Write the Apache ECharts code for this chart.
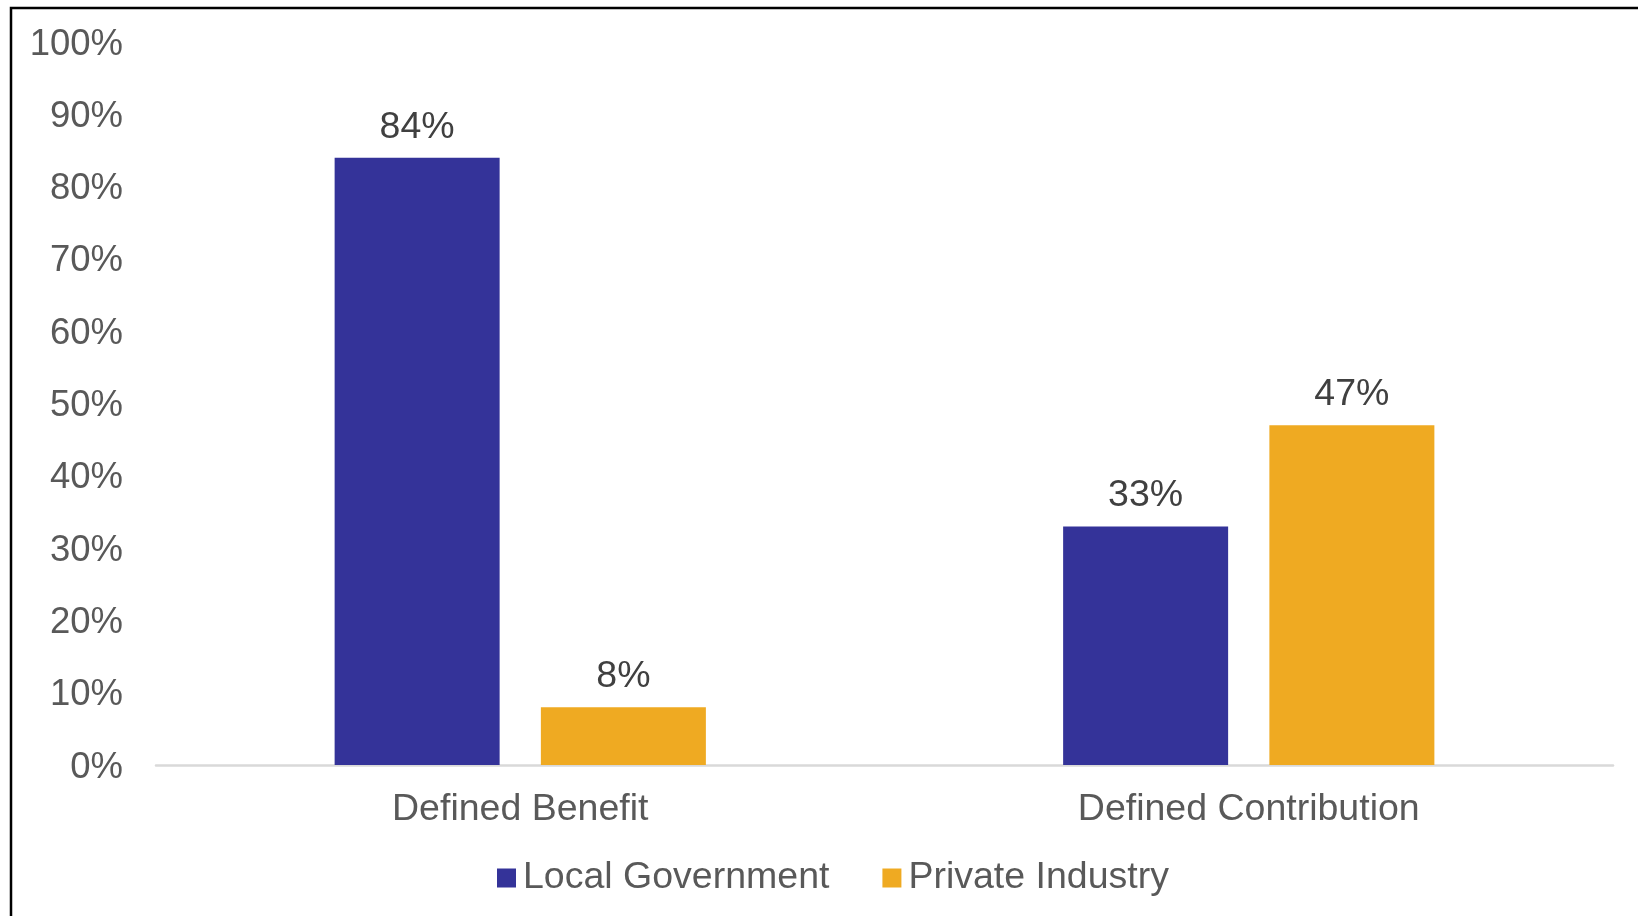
<!DOCTYPE html>
<html>
<head>
<meta charset="utf-8">
<script src="https://cdn.jsdelivr.net/npm/echarts@6/dist/echarts.min.js"></script>
<style>
html,body{margin:0;padding:0;background:#fff;}
#chart{width:1638px;height:916px;}
</style>
</head>
<body>
<div id="chart"></div>
<script>
const categories = ['Defined Benefit', 'Defined Contribution'];
const seriesNames = ['Local Government', 'Private Industry'];
const localGovernment = [84, 33];
const privateIndustry = [8, 47];
const yTicks = [0, 10, 20, 30, 40, 50, 60, 70, 80, 90, 100];

const FONT = '"Liberation Sans", Arial, sans-serif';
const FS = 37.5;
const chart = echarts.init(document.getElementById('chart'), null, {renderer: 'canvas'});

const labelCfg = {
  show: true,
  position: 'top',
  distance: 12,
  formatter: p => p.value + '%',
  color: '#404040',
  fontSize: FS,
  lineHeight: 37,
  fontFamily: FONT
};

chart.setOption({
  animation: false,
  backgroundColor: '#ffffff',
  graphic: [{
    type: 'rect',
    shape: {x: 11, y: 8, width: 1800, height: 1000},
    style: {fill: 'none', stroke: '#000000', lineWidth: 2.5},
    silent: true,
    z: 100
  }],
  grid: {left: 156, right: 25, top: 42, bottom: 151, containLabel: false},
  legend: {
    data: seriesNames,
    left: 492,
    top: 854,
    icon: 'rect',
    itemWidth: 19,
    itemHeight: 19,
    itemGap: 53,
    textStyle: {color: '#595959', fontSize: FS, lineHeight: 37, fontFamily: FONT, padding: [0, 0, 0, 2]}
  },
  xAxis: {
    type: 'category',
    data: categories,
    axisLine: {show: true, lineStyle: {color: '#d9d9d9', width: 2.5}},
    axisTick: {show: false},
    axisLabel: {color: '#595959', fontSize: FS, fontFamily: FONT, margin: 26}
  },
  yAxis: {
    type: 'value',
    min: yTicks[0],
    max: yTicks[yTicks.length - 1],
    interval: 10,
    axisLine: {show: false},
    axisTick: {show: false},
    splitLine: {show: false},
    axisLabel: {
      color: '#595959', fontSize: 36.5, fontFamily: FONT, margin: 33,
      formatter: v => '{v|' + v + '%}',
      rich: {v: {color: '#595959', fontSize: 36.5, fontFamily: FONT, lineHeight: 36, padding: [5, 0, 0, 0]}}
    }
  },
  series: [
    {
      name: seriesNames[0],
      type: 'bar',
      data: localGovernment,
      barWidth: 165,
      barGap: '25%',
      itemStyle: {color: '#343399'},
      label: labelCfg
    },
    {
      name: seriesNames[1],
      type: 'bar',
      data: privateIndustry,
      barWidth: 165,
      barGap: '25%',
      itemStyle: {color: '#EFAA22'},
      label: labelCfg
    }
  ]
});
</script>
</body>
</html>
